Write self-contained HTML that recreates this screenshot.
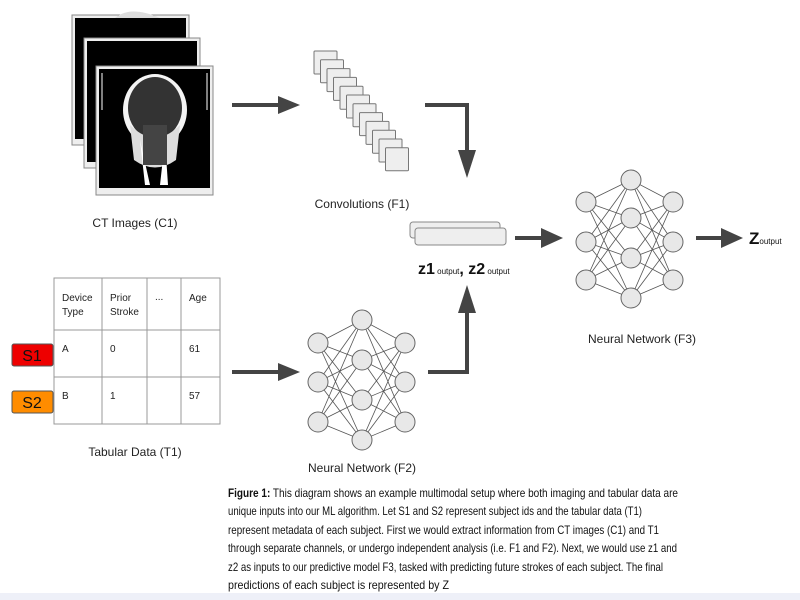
<!DOCTYPE html>
<html><head><meta charset="utf-8"><style>
html,body{margin:0;padding:0;background:#fff;}
svg{display:block;font-family:"Liberation Sans",Arial,sans-serif;}
</style></head><body>
<svg id="s" width="800" height="600" viewBox="0 0 800 600" xmlns="http://www.w3.org/2000/svg">
<rect width="800" height="600" fill="#fff"/>
<rect x="0" y="593" width="800" height="7" fill="#eef0f8"/>
<!-- CT images -->
<g>
<rect x="72" y="15" width="117" height="130" fill="#eee" stroke="#888"/>
<rect x="75" y="18" width="111" height="121" fill="#000"/>
<path d="M115 18 Q130 5 160 18 Z" fill="#ddd"/>
<rect x="84" y="38" width="116" height="130" fill="#eee" stroke="#888"/>
<rect x="87" y="41" width="110" height="121" fill="#000"/>
<rect x="96" y="66" width="117" height="129" fill="#eee" stroke="#888"/>
<rect x="99" y="69" width="111" height="119" fill="#000"/>
<ellipse cx="155" cy="110" rx="32" ry="36" fill="#f4f4f4"/>
<ellipse cx="155" cy="108" rx="27" ry="31" fill="#333"/>
<path d="M130 125 Q155 150 180 125 L176 160 Q155 175 134 160 Z" fill="#ddd"/>
<path d="M140 140 L150 185 L145 185 Z M165 140 L160 185 L168 185 Z" fill="#fff"/>
<rect x="143" y="125" width="24" height="40" fill="#444"/>
<line x1="102" y1="73" x2="102" y2="110" stroke="#fff"/>
<line x1="207" y1="73" x2="207" y2="110" stroke="#fff"/>
</g>
<text x="135" y="227" font-size="12" text-anchor="middle" fill="#222">CT Images (C1)</text>
<!-- arrows -->
<g fill="#444" stroke="#444">
<line x1="232" y1="105" x2="282" y2="105" stroke-width="4"/>
<polygon points="278,96 300,105 278,114" stroke="none"/>
<polyline points="425,105 467,105 467,152" fill="none" stroke-width="4"/>
<polygon points="458,150 467,178 476,150" stroke="none"/>
<line x1="232" y1="372" x2="282" y2="372" stroke-width="4"/>
<polygon points="278,363 300,372 278,381" stroke="none"/>
<polyline points="428,372 467,372 467,312" fill="none" stroke-width="4"/>
<polygon points="458,313 467,285 476,313" stroke="none"/>
<line x1="515" y1="238" x2="545" y2="238" stroke-width="4"/>
<polygon points="541,228 563,238 541,248" stroke="none"/>
<line x1="696" y1="238" x2="725" y2="238" stroke-width="4"/>
<polygon points="721,228 743,238 721,248" stroke="none"/>
</g>
<g id="conv" fill="#eee" stroke="#777"></g>
<text x="362" y="208" font-size="12" text-anchor="middle" fill="#222">Convolutions (F1)</text>
<rect x="410" y="222" width="90" height="16" rx="3" fill="#eee" stroke="#888"/>
<rect x="415" y="228" width="91" height="17" rx="3" fill="#eee" stroke="#888"/>
<text x="418" y="274" font-size="16" font-weight="bold" fill="#111">z1<tspan font-size="8" font-weight="normal"> output</tspan>, z2<tspan font-size="8" font-weight="normal"> output</tspan></text>
<text x="749" y="244" font-size="17" font-weight="bold" fill="#111">Z<tspan font-size="8" font-weight="normal">output</tspan></text>
<g id="nets"></g>
<text x="642" y="343" font-size="12" text-anchor="middle" fill="#222">Neural Network (F3)</text>
<text x="362" y="472" font-size="12" text-anchor="middle" fill="#222">Neural Network (F2)</text>
<!-- table -->
<g stroke="#999" fill="none">
<rect x="54" y="278" width="166" height="146"/>
<line x1="54" y1="330" x2="220" y2="330"/><line x1="54" y1="377" x2="220" y2="377"/>
<line x1="102" y1="278" x2="102" y2="424"/><line x1="147" y1="278" x2="147" y2="424"/><line x1="181" y1="278" x2="181" y2="424"/>
</g>
<g font-size="10" fill="#222">
<text x="62" y="301">Device</text><text x="62" y="315">Type</text>
<text x="110" y="301">Prior</text><text x="110" y="315">Stroke</text>
<text x="155" y="300">...</text><text x="189" y="301">Age</text>
<text x="62" y="352">A</text><text x="110" y="352">0</text><text x="189" y="352">61</text>
<text x="62" y="399">B</text><text x="110" y="399">1</text><text x="189" y="399">57</text>
</g>
<rect x="12" y="344" width="41" height="22" rx="2" fill="#ee0000" stroke="#555"/>
<text x="32" y="361" font-size="16" text-anchor="middle" fill="#111">S1</text>
<rect x="12" y="391" width="41" height="22" rx="2" fill="#ff8c00" stroke="#555"/>
<text x="32" y="408" font-size="16" text-anchor="middle" fill="#111">S2</text>
<text x="135" y="456" font-size="12" text-anchor="middle" fill="#222">Tabular Data (T1)</text>
<!-- caption -->
<g font-size="12" fill="#111">
<text x="228" y="497" textLength="450" lengthAdjust="spacingAndGlyphs"><tspan font-weight="bold">Figure 1:</tspan> This diagram shows an example multimodal setup where both imaging and tabular data are</text>
<text x="228" y="515" textLength="414" lengthAdjust="spacingAndGlyphs">unique inputs into our ML algorithm. Let S1 and S2 represent subject ids and the tabular data (T1)</text>
<text x="228" y="534" textLength="431" lengthAdjust="spacingAndGlyphs">represent metadata of each subject. First we would extract information from CT images (C1) and T1</text>
<text x="228" y="552" textLength="449" lengthAdjust="spacingAndGlyphs">through separate channels, or undergo independent analysis (i.e. F1 and F2). Next, we would use z1 and</text>
<text x="228" y="571" textLength="435" lengthAdjust="spacingAndGlyphs">z2 as inputs to our predictive model F3, tasked with predicting future strokes of each subject. The final</text>
<text x="228" y="589" textLength="221" lengthAdjust="spacingAndGlyphs">predictions of each subject is represented by Z</text>
</g>
</svg>
<script>
var NS="http://www.w3.org/2000/svg";
function el(p,t,a){var e=document.createElementNS(NS,t);for(var k in a)e.setAttribute(k,a[k]);p.appendChild(e);return e;}
var c=document.getElementById("conv");
for(var i=0;i<12;i++){el(c,"rect",{x:314+i*6.5,y:51+i*8.8,width:23,height:23,rx:1});}
var n=document.getElementById("nets");
function net(x0,x1,x2,ya,yb){
 var A=ya,B=yb;
 A.forEach(function(a){B.forEach(function(b){el(n,"line",{x1:x0,y1:a,x2:x1,y2:b,stroke:"#555","stroke-width":0.8});});});
 B.forEach(function(b){A.forEach(function(a){el(n,"line",{x1:x1,y1:b,x2:x2,y2:a,stroke:"#555","stroke-width":0.8});});});
 A.forEach(function(a){el(n,"circle",{cx:x0,cy:a,r:10,fill:"#e8e8e8",stroke:"#666"});el(n,"circle",{cx:x2,cy:a,r:10,fill:"#e8e8e8",stroke:"#666"});});
 B.forEach(function(b){el(n,"circle",{cx:x1,cy:b,r:10,fill:"#e8e8e8",stroke:"#666"});});
}
net(586,631,673,[202,242,280],[180,218,258,298]);
net(318,362,405,[343,382,422],[320,360,400,440]);
</script>
</body></html>
